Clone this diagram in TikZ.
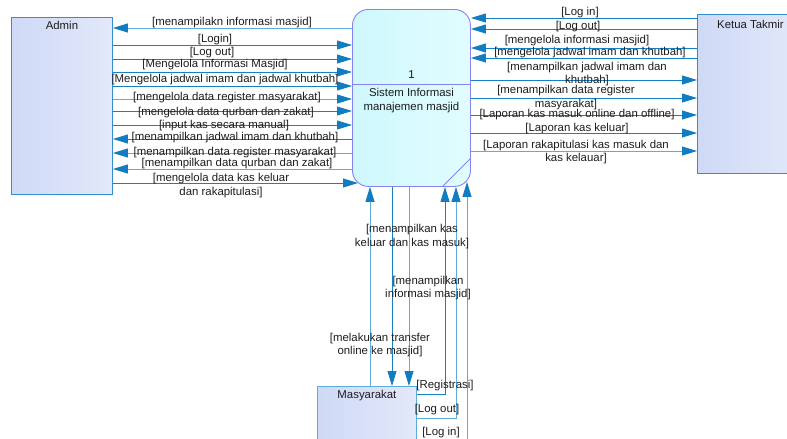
\documentclass[tikz,border=0pt]{standalone}
\usepackage{fontspec}
\setmainfont{Liberation Sans}
\usetikzlibrary{arrows.meta,calc}
\definecolor{flow}{RGB}{22,128,196}
\definecolor{flowlt}{RGB}{92,172,222}
\definecolor{tipc}{RGB}{18,124,194}
\definecolor{entedge}{RGB}{52,142,206}
\definecolor{procedge}{RGB}{132,132,245}
\definecolor{txt}{RGB}{28,28,28}
\definecolor{entA}{RGB}{196,210,244}
\definecolor{entB}{RGB}{238,240,252}
\definecolor{procA}{RGB}{198,246,252}
\definecolor{procB}{RGB}{234,254,255}
% left-to-right fills for the boxes
\pgfdeclarehorizontalshading{entshade}{100bp}{color(0bp)=(entA); color(100bp)=(entB)}
\pgfdeclarehorizontalshading{procshade}{100bp}{color(0bp)=(procA); color(100bp)=(procB)}

\begin{document}
\begin{tikzpicture}[x=1pt,y=-1pt,
  font=\fontsize{11.4}{13.4}\selectfont, text=txt,
  entity/.style={draw=entedge, line width=0.9pt, shading=entshade,
    inner sep=0pt, anchor=north west},
  process/.style={draw=procedge, line width=0.9pt, shading=procshade,
    rounded corners=16pt, inner sep=0pt, anchor=north west},
  flowarr/.style={draw=flow, line width=0.9pt, -{Triangle[length=15pt,width=9pt,color=tipc,fill=tipc]}},
  flowarrlt/.style={flowarr, draw=flowlt},
  flowlbl/.style={inner sep=0pt, align=center},
]
\useasboundingbox (0,0) rectangle (787,439);
\clip (0,0) rectangle (787,439);

% entities and the process
\node[entity, minimum width=101pt, minimum height=177pt] (admin) at (11,17) {};
\node (admintxt) at (admin.north |- 0,25) {Admin};

\node[entity, minimum width=106pt, minimum height=159pt] (ketua) at (697,14) {};
\node (ketuatxt) at (ketua.north |- 0,24) {Ketua Takmir};

\node[entity, draw=flowlt, minimum width=99pt, minimum height=150pt] (masy) at (317,386) {};
\node (masytxt) at (masy.north |- 0,396) {Masyarakat};

\node[process, minimum width=118pt, minimum height=177pt] (proc) at (352,9) {};
\draw[procedge, line width=0.9pt] (proc.west |- 0,84) -- (proc.east |- 0,84);
\draw[procedge, line width=0.9pt] (proc.south -| 442,0) -- (proc.east |- 0,158);
\node (procnum) at (proc.north |- 0,75) {1};
\node[flowlbl] (procname) at (proc.north |- 0,100.5) {Sistem Informasi\\manajemen masjid};

% Admin <-> process
\draw[flowarrlt] (proc.west |- 0,28) -- (admin.east |- 0,28);
\draw[flowarr] (admin.east |- 0,45) -- (proc.west |- 0,45);
\draw[flowarr] (admin.east |- 0,59) -- (proc.west |- 0,59);
\draw[flowarr] (admin.east |- 0,72) -- (proc.west |- 0,72);
\draw[flowarr] (admin.east |- 0,86) -- (proc.west |- 0,86);
\draw[flowarrlt] (admin.east |- 0,99) -- (proc.west |- 0,99);
\draw[flowarr] (admin.east |- 0,111) -- (proc.west |- 0,111);
\draw[flowarr] (admin.east |- 0,125) -- (proc.west |- 0,125);
\draw[flowarr] (proc.west |- 0,139) -- (admin.east |- 0,139);
\draw[flowarrlt] (proc.west |- 0,153) -- (admin.east |- 0,153);
\draw[flowarrlt] (proc.west |- 0,169) -- (admin.east |- 0,169);
\draw[flowarr] (admin.east |- 0,183) -- ($(proc.west |- 0,183)+(6,0)$);

\node[flowlbl] (la1) at (232,22.5) {[menampilakn informasi masjid]};
\node[flowlbl] (la2) at (215,40) {[Login]};
\node[flowlbl] (la3) at (212,53) {[Log out]};
\node[flowlbl] (la4) at (215,65) {[Mengelola Informasi Masjid]};
\node[flowlbl] (la5) at (225,80) {[Mengelola jadwal imam dan jadwal khutbah]};
\node[flowlbl] (la6) at (227,98) {[mengelola data register masyarakat]};
\node[flowlbl] (la7) at (226,113) {[mengelola data qurban dan zakat]};
\node[flowlbl] (la8) at (224,126) {[input kas secara manual]};
\node[flowlbl] (la9) at (235,138) {[menampilkan jadwal imam dan khutbah]};
\node[flowlbl] (la10) at (235,152.5) {[menampilkan data register masyarakat]};
\node[flowlbl] (la11) at (237,164) {[menampilkan data qurban dan zakat]};
\node[flowlbl] (la12) at (221,185.5) {[mengelola data kas keluar\\dan rakapitulasi]};

% Ketua Takmir <-> process
\draw[flowarr] (ketua.west |- 0,18) -- (proc.east |- 0,18);
\draw[flowarr] (ketua.west |- 0,29) -- (proc.east |- 0,29);
\draw[flowarr] (ketua.west |- 0,48) -- (proc.east |- 0,48);
\draw[flowarr] (ketua.west |- 0,58) -- (proc.east |- 0,58);
\draw[flowarr] (proc.east |- 0,80) -- (ketua.west |- 0,80);
\draw[flowarr] (proc.east |- 0,98) -- (ketua.west |- 0,98);
\draw[flowarr] (proc.east |- 0,115) -- (ketua.west |- 0,115);
\draw[flowarr] (proc.east |- 0,133) -- (ketua.west |- 0,133);
\draw[flowarrlt] (proc.east |- 0,151) -- (ketua.west |- 0,151);

\node[flowlbl] (lk1) at (580,13) {[Log in]};
\node[flowlbl] (lk2) at (578,27) {[Log out]};
\node[flowlbl] (lk3) at (577,41) {[mengelola informasi masjid]};
\node[flowlbl] (lk4) at (590,53) {[mengelola jadwal imam dan khutbah]};
\node[flowlbl] (lk5) at (587,74) {[menampilkan jadwal imam dan\\khutbah]};
\node[flowlbl] (lk6) at (566,97.5) {[menampilkan data register\\masyarakat]};
\node[flowlbl] (lk7) at (577,115) {[Laporan kas masuk online dan offline]};
\node[flowlbl] (lk8) at (577,129) {[Laporan kas keluar]};
\node[flowlbl] (lk9) at (576,152) {[Laporan rakapitulasi kas masuk dan\\kas kelauar]};

% Masyarakat <-> process
\draw[flowarrlt] (masy.north -| 370,0) -- (proc.south -| 370,0);
\draw[flowarr] (proc.south -| 392,0) -- (masy.north -| 392,0);
\draw[flowarrlt] (proc.south -| 409,0) -- (masy.north -| 409,0);
\draw[flowarr] (masy.east |- 0,394) -| (proc.south -| 445,0);
\draw[flowarrlt] (masy.east |- 0,418) -| (proc.south -| 456,0);
\draw[flowarrlt] (masy.east |- 0,444) -| ($(proc.south -| 467,0)+(0,-5)$);

\node[flowlbl] (lm1) at (412,236.5) {[menampilkan kas\\keluar dan kas masuk]};
\node[flowlbl] (lm2) at (428,288) {[menampilkan\\informasi masjid]};
\node[flowlbl] (lm3) at (380,345) {[melakukan transfer\\online ke masjid]};
\node[flowlbl] (lm4) at (445,386) {[Registrasi]};
\node[flowlbl] (lm5) at (437,410) {[Log out]};
\node[flowlbl] (lm6) at (441,433) {[Log in]};
\end{tikzpicture}
\end{document}
